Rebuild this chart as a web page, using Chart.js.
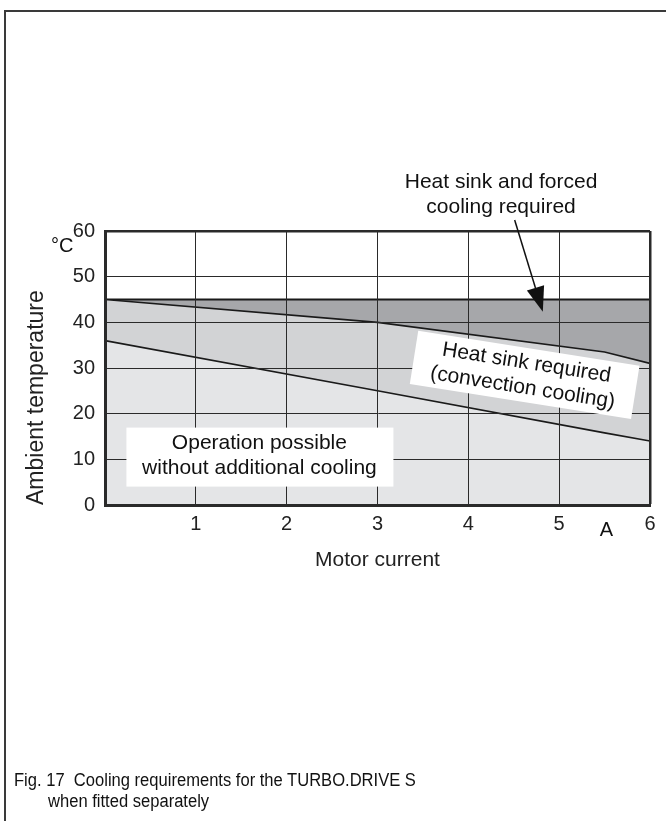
<!DOCTYPE html>
<html>
<head>
<meta charset="utf-8">
<script src="https://cdn.jsdelivr.net/npm/chart.js@4"></script>
<style>
    html, body { margin: 0; padding: 0; background: #fff; }
    #wrap { position: relative; width: 666px; height: 821px; overflow: hidden; }
    #frame { position: absolute; left: 4px; top: 10px; right: -10px; bottom: -10px;
             border-top: 2px solid #3a3a3a; border-left: 2px solid #3a3a3a; }
    #grafico { position: absolute; left: 0; top: 0; }
    #caption { position: absolute; left: 14px; top: 770px; color: #111; white-space: nowrap;
               font: 18px "Liberation Sans", Arial, sans-serif; line-height: 21px;
               transform: scaleX(0.92); transform-origin: 0 0; }
    #caption .l2 { padding-left: 37px; }
</style>
</head>
<body>
<div id="wrap">
    <div id="frame"></div>
    <canvas id="grafico" width="666" height="821"></canvas>
    <div id="caption">Fig. 17&nbsp;&nbsp;Cooling requirements for the TURBO.DRIVE S<br><span class="l2">when fitted separately</span></div>
</div>
<script>
// motor current (A) where the limit curves are read
const currentA = [0, 3, 5.5, 6];
// upper edge of the "heat sink and forced cooling" band
const forcedLimit = [45, 45, 45, 45];
// limit for heat sink with convection cooling
const convectionLimit = [45, 40, 33.5, 31];
// limit for operation without additional cooling
const passiveLimit = [36, 25, 15.8, 14];

const xTickLabels = ['', '1', '2', '3', '4', '5', '6'];
const yTickValues = [0, 10, 20, 30, 40, 50, 60];

const pontos = vals => vals.map((v, i) => ({ x: currentA[i], y: v }));

Chart.defaults.font.family = '"Liberation Sans", Arial, sans-serif';
Chart.defaults.color = '#222';

// texts, boxes and arrow drawn over the chart
const notas = {
    id: 'notas',
    afterDraw(chart) {
        const { ctx, scales: { x, y } } = chart;
        const px = v => x.getPixelForValue(v);
        const py = v => y.getPixelForValue(v);
        ctx.save();
        ctx.fillStyle = '#111';
        ctx.textAlign = 'center';
        ctx.textBaseline = 'middle';
        ctx.font = '21px "Liberation Sans", Arial, sans-serif';

        // top note + arrow
        ctx.fillText('Heat sink and forced', px(4.36), py(70.7));
        ctx.fillText('cooling required', px(4.36), py(65.3));
        const x0 = px(4.51), y0 = py(62.4), x1 = px(4.82), y1 = py(42.3);
        const ang = Math.atan2(y1 - y0, x1 - x0);
        const len = 25, w = 9;
        const bx = x1 - len * Math.cos(ang), by = y1 - len * Math.sin(ang);
        ctx.strokeStyle = '#111';
        ctx.lineWidth = 1.5;
        ctx.beginPath();
        ctx.moveTo(x0, y0);
        ctx.lineTo(bx, by);
        ctx.stroke();
        ctx.beginPath();
        ctx.moveTo(x1, y1);
        ctx.lineTo(bx + w * Math.sin(ang), by - w * Math.cos(ang));
        ctx.lineTo(bx - w * Math.sin(ang), by + w * Math.cos(ang));
        ctx.closePath();
        ctx.fill();

        // rotated box
        ctx.save();
        ctx.translate(px(4.62), py(28.5));
        ctx.rotate(9 * Math.PI / 180);
        ctx.fillStyle = '#fff';
        ctx.fillRect(-112, -27, 224, 54);
        ctx.fillStyle = '#111';
        ctx.fillText('Heat sink required', 0, -12);
        ctx.fillText('(convection cooling)', 0, 13);
        ctx.restore();

        // lower box
        const cx = px(1.70), cy = py(10.6);
        ctx.fillStyle = '#fff';
        ctx.fillRect(cx - 133, cy - 29, 267, 59);
        ctx.fillStyle = '#111';
        ctx.fillText('Operation possible', cx, cy - 13);
        ctx.fillText('without additional cooling', cx, cy + 12);

        // units
        ctx.font = '20px "Liberation Sans", Arial, sans-serif';
        ctx.fillText('\u00B0C', px(-0.47), py(56.5));
        ctx.fillText('A', px(5.52), py(-5.5));
        ctx.restore();
    }
};

const ctx = document.getElementById('grafico').getContext('2d');
new Chart(ctx, {
    type: 'line',
    data: {
        datasets: [
            {
                label: 'Without additional cooling',
                data: pontos(passiveLimit),
                borderColor: '#1a1a1a',
                borderWidth: 1.6,
                backgroundColor: '#e4e5e7',
                fill: 'origin'
            },
            {
                label: 'Heat sink (convection)',
                data: pontos(convectionLimit),
                borderColor: '#1a1a1a',
                borderWidth: 1.6,
                backgroundColor: '#d2d3d5',
                fill: '-1'
            },
            {
                label: 'Heat sink and forced cooling',
                data: pontos(forcedLimit),
                borderColor: '#1a1a1a',
                borderWidth: 2,
                backgroundColor: '#a6a7aa',
                fill: '-1'
            }
        ]
    },
    options: {
        responsive: false,
        animation: false,
        events: [],
        elements: { point: { radius: 0 }, line: { tension: 0 } },
        layout: { padding: { top: 231, right: 16, bottom: 0, left: 0 } },
        plugins: { legend: { display: false }, tooltip: { enabled: false } },
        scales: {
            x: {
                type: 'linear',
                min: 0,
                max: 6,
                ticks: {
                    stepSize: 1,
                    padding: 7,
                    color: '#222',
                    font: { size: 20 },
                    callback: v => xTickLabels[v]
                },
                grid: {
                    z: 1,
                    color: '#2a2a2a',
                    drawTicks: false,
                    lineWidth: c => (c.tick && c.tick.value === 6 ? 2.5 : 1)
                },
                border: { z: 2, color: '#2a2a2a', width: 3 },
                title: {
                    display: true,
                    text: 'Motor current',
                    color: '#222',
                    font: { size: 21 },
                    padding: { top: 0, bottom: 248 }
                },
                afterFit: s => { s.height = 316; }
            },
            y: {
                type: 'linear',
                min: 0,
                max: 60,
                afterBuildTicks: s => { s.ticks = yTickValues.map(v => ({ value: v })); },
                ticks: {
                    padding: 10,
                    color: '#222',
                    font: { size: 20 }
                },
                grid: {
                    z: 1,
                    color: '#2a2a2a',
                    drawTicks: false,
                    lineWidth: c => (c.tick && c.tick.value === 60 ? 2.5 : 1)
                },
                border: { z: 2, color: '#2a2a2a', width: 3 },
                title: {
                    display: true,
                    text: 'Ambient temperature',
                    align: 'start',
                    color: '#222',
                    font: { size: 23 },
                    padding: { top: 23, bottom: 0 }
                },
                afterFit: s => { s.width = 105; }
            }
        }
    },
    plugins: [notas]
});
</script>
</body>
</html>
